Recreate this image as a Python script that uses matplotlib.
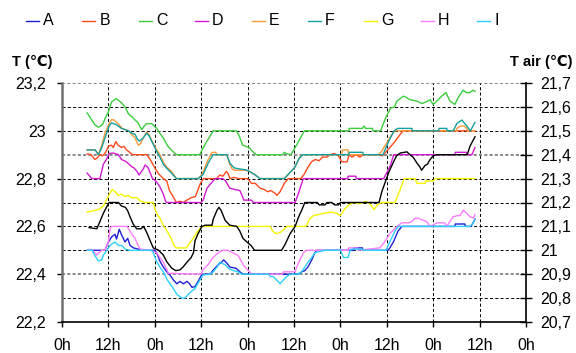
import matplotlib
matplotlib.use("Agg")
import matplotlib.pyplot as plt
from matplotlib.lines import Line2D
from matplotlib.ticker import FixedLocator, FuncFormatter

plt.rcParams['font.family'] = ['Liberation Sans', 'DejaVu Sans']
plt.rcParams['lines.scale_dashes'] = False

# ---- measured surface temperatures (hours since start, degC) ----
a_t = [6.5, 11.1, 12.0, 12.9, 13.7, 14.1, 14.8, 15.4, 16.3, 17.0, 17.6, 18.5, 19.7, 21.0, 24.0, 24.5,
       25.3, 26.2, 27.1, 27.9, 28.8, 29.7, 30.5, 31.4, 32.3, 33.0, 33.6, 34.4, 35.2, 35.7, 36.2, 38.3,
       39.1, 40.4, 41.4, 41.8, 42.7, 43.4, 45.0, 46.0, 46.8, 61.1, 62.0, 62.8, 63.6, 64.6, 65.4, 65.9,
       75.5, 75.6, 77.7, 77.8, 84.3, 84.8, 85.7, 86.9, 87.9, 101.6, 101.7, 104.2, 104.3, 105.8, 106.8]
a_v = [22.50, 22.50, 22.535, 22.557, 22.567, 22.547, 22.588, 22.565, 22.535, 22.55, 22.52, 22.51, 22.505,
       22.50, 22.50, 22.49, 22.455, 22.43, 22.41, 22.397, 22.376, 22.36, 22.37, 22.36, 22.37, 22.36,
       22.345, 22.348, 22.37, 22.385, 22.40, 22.40, 22.417, 22.44, 22.452, 22.46, 22.445, 22.43, 22.425,
       22.41, 22.40, 22.40, 22.41, 22.415, 22.43, 22.46, 22.49, 22.50, 22.50, 22.51, 22.51, 22.50,
       22.50, 22.51, 22.535, 22.58, 22.60, 22.60, 22.61, 22.61, 22.60, 22.60, 22.63]

b_t = [6.5, 7.5, 8.5, 9.0, 9.8, 10.5, 11.3, 12.0, 12.8, 13.3, 13.9, 14.5, 15.4, 16.0, 16.7, 17.5, 18.2,
       21.9, 22.8, 24.0, 25.0, 26.2, 27.1, 27.8, 28.7, 29.6, 30.5, 31.4, 32.3, 33.4, 34.5, 35.2, 35.8,
       36.6, 40.0, 40.8, 41.6, 42.5, 43.0, 43.4, 44.5, 45.6, 48.0, 49.0, 50.0, 51.2, 52.2, 53.2, 54.0,
       55.0, 55.6, 56.4, 57.5, 58.5, 61.8, 62.7, 63.5, 64.5, 65.5, 66.5, 67.3, 68.5, 69.3, 70.4, 71.5,
       72.4, 73.7, 74.3, 75.0, 76.0, 77.0, 78.0, 82.0, 82.8, 83.7, 84.8, 86.1, 87.0, 88.2, 106.8]
b_v = [22.903, 22.90, 22.88, 22.885, 22.90, 22.895, 22.91, 22.935, 22.94, 22.93, 22.955, 22.94, 22.93,
       22.935, 22.92, 22.91, 22.90, 22.90, 22.88, 22.845, 22.82, 22.80, 22.79, 22.75, 22.725, 22.70,
       22.705, 22.70, 22.71, 22.72, 22.725, 22.755, 22.78, 22.80, 22.80, 22.815, 22.81, 22.83, 22.82,
       22.80, 22.805, 22.80, 22.80, 22.78, 22.78, 22.76, 22.755, 22.745, 22.75, 22.74, 22.73, 22.745,
       22.78, 22.80, 22.80, 22.82, 22.845, 22.87, 22.88, 22.875, 22.89, 22.89, 22.90, 22.905, 22.895,
       22.87, 22.87, 22.90, 22.89, 22.90, 22.89, 22.90, 22.90, 22.895, 22.91, 22.93, 22.955, 22.975,
       23.00, 23.00]

c_t = [6.5, 7.5, 8.5, 9.4, 10.0, 10.6, 11.1, 12.0, 12.8, 14.0, 14.8, 15.4, 16.3, 17.2, 18.0, 18.9, 19.6,
       20.6, 21.3, 21.9, 23.2, 23.8, 24.5, 25.3, 26.2, 27.4, 28.3, 29.1, 29.6, 35.6, 36.9, 38.0, 39.1,
       45.1, 45.8, 46.7, 47.5, 48.4, 49.2, 50.2, 57.1, 57.5, 58.0, 59.2, 61.0, 62.0, 62.7, 74.2, 74.3,
       77.7, 78.1, 78.5, 80.3, 80.4, 82.4, 83.7, 85.0, 86.0, 86.6, 88.3, 89.0, 90.0, 91.8, 93.1, 94.0,
       95.2, 96.0, 97.0, 98.2, 99.3, 100.3, 101.6, 102.5, 103.7, 104.6, 105.5, 106.3, 106.8]
c_v = [23.075, 23.05, 23.025, 23.015, 23.02, 23.03, 23.05, 23.08, 23.12, 23.135, 23.125, 23.117, 23.10,
       23.07, 23.06, 23.045, 23.035, 23.005, 23.02, 23.03, 23.03, 23.02, 23.01, 22.99, 22.97, 22.935,
       22.92, 22.907, 22.90, 22.90, 22.94, 22.97, 23.00, 23.00, 22.98, 22.94, 22.935, 22.93, 22.915,
       22.90, 22.90, 22.91, 22.905, 22.90, 22.95, 22.98, 23.00, 23.00, 23.01, 23.01, 23.02, 23.01,
       23.01, 23.00, 23.00, 23.054, 23.095, 23.10, 23.124, 23.145, 23.14, 23.13, 23.124, 23.114, 23.12,
       23.13, 23.11, 23.125, 23.145, 23.16, 23.125, 23.11, 23.14, 23.17, 23.16, 23.16, 23.17, 23.165]

d_t = [6.5, 7.7, 9.8, 10.7, 11.5, 12.2, 13.3, 14.6, 15.4, 16.7, 18.0, 18.6, 19.4, 19.9, 21.0, 21.5,
       22.3, 23.4, 24.3, 25.3, 26.2, 26.8, 27.1, 36.0, 36.5, 37.5, 38.8, 39.6, 41.6, 42.3, 43.4, 44.5,
       46.0, 46.8, 47.0, 49.0, 49.5, 60.3, 61.4, 62.4, 73.9, 74.0, 76.0, 76.1, 83.2, 84.8, 85.8, 101.6,
       101.7, 104.6, 104.7, 106.0, 106.8]
d_v = [22.823, 22.80, 22.80, 22.86, 22.88, 22.905, 22.907, 22.90, 22.88, 22.87, 22.85, 22.845, 22.83,
       22.815, 22.84, 22.857, 22.845, 22.80, 22.79, 22.766, 22.735, 22.705, 22.70, 22.70, 22.71, 22.76,
       22.785, 22.80, 22.80, 22.79, 22.76, 22.755, 22.75, 22.72, 22.71, 22.71, 22.70, 22.70, 22.75,
       22.80, 22.80, 22.81, 22.81, 22.80, 22.80, 22.85, 22.90, 22.90, 22.91, 22.91, 22.90, 22.90, 22.93]

e_t = [6.5, 8.6, 9.4, 10.3, 11.1, 12.2, 12.8, 13.5, 14.5, 15.6, 17.2, 18.0, 18.9, 19.7, 20.3, 21.0,
       21.9, 22.5, 23.2, 24.5, 25.3, 26.2, 27.0, 28.3, 29.6, 35.2, 36.3, 37.5, 38.8, 39.8, 40.0, 42.6,
       43.4, 44.0, 44.5, 47.5, 48.5, 50.0, 51.2, 57.5, 58.8, 60.1, 61.4, 62.3, 72.4, 72.5, 74.0, 74.1,
       81.7, 82.5, 84.0, 85.5, 86.2, 102.0, 102.1, 103.0, 104.0, 104.7, 105.0, 106.8]
e_v = [22.92, 22.92, 22.90, 22.94, 22.99, 23.03, 23.047, 23.045, 23.03, 23.01, 23.00, 22.985, 22.97,
       22.94, 22.945, 22.97, 22.995, 22.985, 22.96, 22.92, 22.90, 22.87, 22.85, 22.83, 22.80, 22.80,
       22.82, 22.87, 22.91, 22.91, 22.90, 22.90, 22.86, 22.84, 22.835, 22.835, 22.83, 22.815, 22.80,
       22.80, 22.823, 22.845, 22.886, 22.90, 22.90, 22.92, 22.92, 22.90, 22.90, 22.91, 22.95, 22.99,
       23.00, 23.00, 23.01, 23.02, 23.02, 23.01, 23.00, 23.00]

f_t = [6.5, 8.6, 9.4, 10.3, 11.1, 12.2, 12.8, 14.0, 15.4, 17.2, 18.0, 18.9, 19.5, 20.0, 21.0, 21.9,
       22.5, 23.2, 24.5, 25.3, 26.2, 27.0, 28.3, 29.6, 35.2, 36.5, 37.8, 39.1, 42.6, 43.4, 44.5, 46.0,
       47.5, 48.5, 50.0, 51.2, 57.5, 58.8, 60.1, 61.4, 62.3, 74.2, 74.3, 77.8, 77.9, 83.0, 84.6, 85.9,
       86.8, 90.5, 90.6, 97.4, 97.5, 99.5, 99.6, 101.2, 102.1, 103.4, 104.7, 105.6, 106.8]
f_v = [22.92, 22.92, 22.90, 22.93, 22.97, 23.02, 23.033, 23.026, 23.01, 23.00, 22.99, 22.985, 22.965,
       22.957, 22.97, 22.99, 22.98, 22.956, 22.914, 22.89, 22.86, 22.845, 22.823, 22.80, 22.80, 22.817,
       22.865, 22.90, 22.90, 22.865, 22.845, 22.84, 22.837, 22.83, 22.815, 22.80, 22.80, 22.823, 22.845,
       22.886, 22.90, 22.90, 22.91, 22.91, 22.90, 22.90, 22.96, 23.00, 23.01, 23.01, 23.00, 23.00, 23.01,
       23.01, 23.00, 23.00, 23.03, 23.045, 23.02, 23.00, 23.035]

g_t = [6.5, 8.0, 9.4, 10.7, 11.5, 12.4, 13.0, 13.7, 14.6, 15.4, 16.3, 17.1, 18.0, 19.4, 20.2, 21.5,
       23.6, 24.0, 24.8, 25.3, 26.2, 27.2, 28.2, 29.0, 29.6, 32.2, 33.0, 33.9, 34.7, 35.6, 36.5, 53.8,
       54.5, 55.3, 56.5, 57.5, 58.2, 63.1, 64.0, 65.0, 66.5, 67.8, 69.5, 71.0, 72.0, 73.0, 74.2, 75.3,
       77.0, 78.6, 79.9, 80.7, 81.5, 82.7, 86.1, 86.6, 87.5, 88.5, 91.3, 91.8, 93.9, 94.0, 96.0, 96.5,
       106.8]
g_v = [22.66, 22.665, 22.67, 22.685, 22.71, 22.74, 22.755, 22.745, 22.73, 22.735, 22.725, 22.73, 22.72,
       22.72, 22.707, 22.70, 22.70, 22.675, 22.645, 22.635, 22.605, 22.58, 22.55, 22.52, 22.51, 22.51,
       22.53, 22.55, 22.57, 22.59, 22.60, 22.60, 22.58, 22.57, 22.575, 22.59, 22.60, 22.60, 22.63,
       22.645, 22.65, 22.655, 22.66, 22.655, 22.645, 22.67, 22.69, 22.70, 22.695, 22.705, 22.69, 22.67,
       22.69, 22.70, 22.70, 22.72, 22.755, 22.80, 22.80, 22.78, 22.78, 22.79, 22.79, 22.80, 22.80]

h_t = [6.5, 7.8, 8.5, 9.0, 9.4, 10.3, 11.1, 12.0, 12.4, 12.8, 16.8, 17.6, 18.4, 18.9, 19.4, 20.2, 22.8,
       24.5, 25.3, 26.2, 27.1, 27.5, 36.0, 36.5, 37.8, 39.1, 40.4, 41.6, 43.0, 44.0, 45.5, 46.5, 47.3,
       48.2, 49.1, 56.9, 57.3, 60.3, 60.7, 61.5, 62.4, 63.3, 74.0, 74.1, 76.4, 76.5, 82.2, 83.5, 84.8,
       86.6, 87.9, 89.6, 90.5, 91.3, 92.2, 93.0, 94.3, 95.2, 96.1, 96.9, 97.8, 99.0, 99.5, 100.3, 101.1,
       102.2, 102.9, 103.8, 104.7, 105.5, 106.4, 106.8]
h_v = [22.50, 22.50, 22.49, 22.48, 22.488, 22.50, 22.50, 22.535, 22.59, 22.60, 22.60, 22.58, 22.56,
       22.55, 22.53, 22.505, 22.50, 22.49, 22.47, 22.45, 22.42, 22.404, 22.40, 22.42, 22.44, 22.47,
       22.49, 22.50, 22.50, 22.49, 22.48, 22.45, 22.43, 22.415, 22.40, 22.40, 22.41, 22.41, 22.43,
       22.46, 22.49, 22.50, 22.50, 22.51, 22.51, 22.50, 22.51, 22.536, 22.57, 22.60, 22.615, 22.615,
       22.62, 22.634, 22.634, 22.628, 22.62, 22.60, 22.607, 22.615, 22.615, 22.615, 22.60, 22.62, 22.64,
       22.645, 22.645, 22.668, 22.655, 22.64, 22.635, 22.65]

i_t = [6.5, 7.8, 8.5, 9.4, 10.3, 10.7, 11.6, 12.4, 13.7, 14.6, 15.5, 16.3, 17.6, 23.2, 23.6, 24.5, 25.3,
       26.2, 27.1, 27.9, 28.8, 29.7, 31.0, 31.8, 32.6, 33.6, 34.4, 34.9, 35.7, 36.5, 38.3, 39.1, 40.1,
       40.8, 41.4, 42.2, 43.0, 44.3, 45.5, 46.5, 53.3, 54.0, 54.6, 55.5, 56.4, 57.2, 58.1, 59.0, 61.1,
       62.0, 62.8, 63.6, 64.6, 65.4, 66.7, 68.0, 72.0, 72.3, 72.8, 74.0, 74.5, 75.0, 77.7, 78.0, 83.8,
       84.8, 86.1, 87.0, 105.5, 106.2, 106.8]
i_v = [22.50, 22.50, 22.478, 22.456, 22.46, 22.48, 22.50, 22.52, 22.535, 22.52, 22.52, 22.505, 22.50,
       22.50, 22.49, 22.452, 22.43, 22.41, 22.38, 22.36, 22.34, 22.316, 22.30, 22.30, 22.315, 22.33,
       22.34, 22.355, 22.376, 22.397, 22.40, 22.41, 22.43, 22.45, 22.445, 22.44, 22.425, 22.415, 22.41,
       22.40, 22.40, 22.39, 22.39, 22.376, 22.36, 22.375, 22.39, 22.40, 22.40, 22.41, 22.43, 22.45,
       22.47, 22.49, 22.495, 22.50, 22.50, 22.49, 22.47, 22.47, 22.50, 22.505, 22.505, 22.50, 22.50,
       22.536, 22.58, 22.60, 22.60, 22.61, 22.63]

# ---- air temperature (right axis, degC) ----
air_t = [7.0, 9.0, 9.8, 10.7, 11.5, 12.2, 14.6, 15.4, 16.4, 17.0, 17.6, 18.4, 19.3, 20.4, 21.1, 21.9,
         22.8, 23.6, 25.0, 26.2, 27.1, 28.4, 29.4, 30.5, 31.3, 32.3, 33.4, 34.0, 34.4, 35.2, 36.2, 37.0,
         38.8, 39.1, 40.1, 40.6, 41.2, 42.2, 43.4, 45.2, 46.0, 46.8, 47.8, 48.9, 49.8, 56.8, 57.7, 59.0,
         60.3, 61.2, 62.0, 62.8, 66.0, 66.5, 68.0, 68.5, 69.8, 70.5, 71.5, 72.0, 82.0, 82.7, 83.7, 84.6,
         85.6, 86.5, 87.5, 89.2, 90.0, 90.8, 91.8, 92.5, 93.0, 93.9, 94.5, 95.2, 96.0, 96.9, 104.8, 105.5,
         106.8]
air_v = [21.095, 21.09, 21.12, 21.155, 21.18, 21.20, 21.20, 21.185, 21.18, 21.165, 21.14, 21.11, 21.09,
         21.09, 21.10, 21.075, 21.04, 21.01, 21.00, 20.98, 20.952, 20.925, 20.915, 20.918, 20.93, 20.95,
         20.97, 20.99, 21.04, 21.07, 21.10, 21.105, 21.105, 21.13, 21.168, 21.18, 21.165, 21.125, 21.105,
         21.10, 21.08, 21.05, 21.035, 21.02, 21.00, 21.00, 21.025, 21.07, 21.10, 21.14, 21.168, 21.20,
         21.20, 21.19, 21.19, 21.20, 21.20, 21.19, 21.19, 21.20, 21.20, 21.245, 21.29, 21.33, 21.365,
         21.395, 21.407, 21.412, 21.40, 21.39, 21.365, 21.35, 21.335, 21.355, 21.36, 21.38, 21.395, 21.40,
         21.40, 21.435, 21.475]

series_names = ['A', 'B', 'C', 'D', 'E', 'F', 'G', 'H', 'I']
series_colors = ['#1f1fd6', '#ff4a1c', '#3ccc3c', '#d21ad2', '#ff9a3c', '#10a0a0', '#f5f500', '#ff7cff', '#2ccfff']
series_data = [(a_t, a_v), (b_t, b_v), (c_t, c_v), (d_t, d_v), (e_t, e_v),
               (f_t, f_v), (g_t, g_v), (h_t, h_v), (i_t, i_v)]

x_ticks = list(range(0, 121, 12))
x_labels = ['0h' if (h // 12) % 2 == 0 else '12h' for h in x_ticks]
left_ticks = [22.2, 22.4, 22.6, 22.8, 23.0, 23.2]
right_ticks = [20.7, 20.8, 20.9, 21.0, 21.1, 21.2, 21.3, 21.4, 21.5, 21.6, 21.7]

W, H = 576, 353
fig = plt.figure(figsize=(W / 100, H / 100), dpi=100)
x0, x1, y0, y1 = 62, 526, 83, 322
ax = fig.add_axes([x0 / W, 1 - y1 / H, (x1 - x0) / W, (y1 - y0) / H])
ax.set_xlim(0, 120)
ax.set_ylim(22.2, 23.2)

# grid
dash = (0, (2.2, 1.6))
for v in [22.3, 22.5, 22.6, 22.7, 22.8, 23.0, 23.1]:
    ax.axhline(v, color='black', lw=0.7, ls=dash, zorder=1)
for v in [22.4, 22.9, 23.2]:
    ax.axhline(v, color='#808080', lw=1.3, ls=dash, zorder=1)
for h in range(12, 120, 12):
    ax.axvline(h, color='black', lw=0.7, ls=dash, zorder=1)

for (t, v), c in zip(series_data, series_colors):
    ax.plot(t, v, color=c, lw=1.0, zorder=3)

fmt = FuncFormatter(lambda v, p: f"{v:.1f}".rstrip('0').rstrip('.').replace('.', ','))
ax.yaxis.set_major_locator(FixedLocator(left_ticks))
ax.yaxis.set_major_formatter(fmt)
ax.set_xticks(x_ticks)
ax.set_xticklabels(x_labels)
ax.tick_params(axis='both', labelsize=11.5, direction='out', length=3.6, width=1, color='black')
ax.tick_params(axis='x', pad=8)
ax.tick_params(axis='y', pad=8)
ax.spines['top'].set_visible(False)
ax.spines['right'].set_visible(False)
ax.spines['left'].set_color('#707070')
ax.spines['left'].set_linewidth(1.8)
ax.spines['bottom'].set_linewidth(1.2)

ax2 = ax.twinx()
ax2.set_ylim(20.7, 21.7)
ax2.plot(air_t, air_v, color='black', lw=1.0, zorder=4)
ax2.yaxis.set_major_locator(FixedLocator(right_ticks))
ax2.yaxis.set_major_formatter(fmt)
ax2.tick_params(axis='y', labelsize=11.5, direction='inout', length=8, width=1, pad=6)
ax2.spines['top'].set_visible(False)
ax2.spines['left'].set_visible(False)
ax2.spines['bottom'].set_visible(False)
ax2.spines['right'].set_linewidth(1.2)

fig.text(12 / W, 1 - 62 / H, 'T (\u2103)', fontsize=10.5, fontweight='bold', va='center', ha='left')
fig.text(572 / W, 1 - 62 / H, 'T air (\u2103)', fontsize=10.5, fontweight='bold', va='center', ha='right')

# legend row
for k, (name, c) in enumerate(zip(series_names, series_colors)):
    lx = 26 + 56.4 * k
    ly = 1 - 20.5 / H
    fig.add_artist(Line2D([lx / W, (lx + 13) / W], [ly, ly], color=c, lw=1.0))
    fig.text((lx + 17) / W, ly, name, fontsize=11.5, va='center', ha='left')

fig.savefig('out.png', dpi=100)
